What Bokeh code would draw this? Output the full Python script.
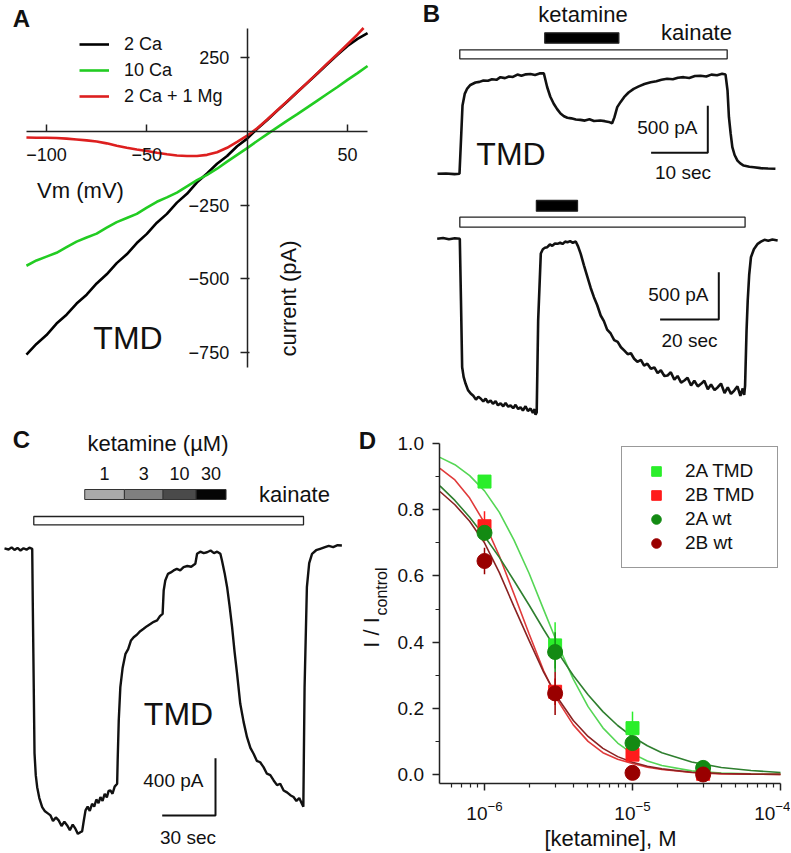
import math
from bokeh.plotting import figure
from bokeh.models import Label, Legend, LegendItem, FixedTicker, NumeralTickFormatter, Range1d
from bokeh.layouts import row, column
from bokeh.embed import file_html
from bokeh.resources import INLINE

FONT = "Liberation Sans"

# ---------------- DATA ----------------
# Panel A : I-V curves
a_vm = [-110, -105, -100, -95, -90, -85, -80, -75, -70, -65, -60, -55, -50, -45, -40, -35, -30, -25,
        -20, -15, -10, -5, 0, 5, 10, 15, 20, 25, 30, 35, 40, 45, 50, 55, 60]
a_2ca = [-757, -721, -691, -652, -622, -584, -554, -516, -485, -447, -417, -379, -348, -310, -280, -242,
         -212, -173, -143, -110, -84, -51, -25, 8, 38, 70, 101, 133, 164, 196, 228, 259, 289, 313, 333]
a_10ca = [-456, -438, -425, -412, -393, -374, -360, -347, -327, -308, -294, -280, -259, -239, -224, -208,
          -187, -166, -148, -127, -103, -80, -57, -33, -10, 13, 36, 58, 81, 104, 127, 150, 174, 197, 221]
a_vm_mg = [-110, -105, -100, -95, -90, -85, -80, -75, -70, -65, -60, -55, -50, -45, -40, -35, -30, -25,
           -20, -15, -10, -5, 0, 5, 10, 15, 20, 25, 30, 35, 40, 45, 50, 55, 58]
a_mg = [-21, -22, -22, -23, -25, -28, -31, -35, -41, -49, -56, -62, -67, -73, -78, -82, -84, -84,
        -80, -71, -56, -36, -15, 10, 40, 71, 102, 133, 165, 197, 230, 262, 295, 328, 350]
a_labels = ["2 Ca", "10 Ca", "2 Ca + 1 Mg"]
a_xticks = [-100, -50, 50]
a_yticks = [-750, -500, -250, 250]

# Panel B top trace (time s, current pA)
b1_trace = [(0, 0), (1.5, 4), (3.0, -3), (3.88, 0), (4.14, 354), (4.41, 727), (4.8, 850), (5.24, 907),
            (5.8, 945), (6.7, 971), (7.4, 978), (8.1, 993), (8.9, 990), (9.6, 1005), (10.4, 1000),
            (11.1, 1028), (11.9, 1018), (12.6, 1035), (13.3, 1030), (14.1, 1056), (14.8, 1042),
            (15.6, 1058), (16.4, 1062), (17.2, 1052), (18.0, 1068), (18.75, 1070), (19.35, 921),
            (19.9, 820), (20.5, 745), (21.1, 688), (21.7, 641), (22.3, 612), (22.9, 596), (23.6, 590),
            (24.4, 578), (25.2, 574), (26.0, 566), (26.8, 580), (27.6, 562), (28.7, 567), (29.5, 560),
            (30.2, 552), (30.8, 538), (31.2, 600), (31.7, 709), (32.3, 765), (32.9, 815), (33.7, 865),
            (34.6, 904), (35.5, 930), (36.5, 955), (37.6, 974), (38.6, 985), (39.5, 1000), (40.5, 1011),
            (41.5, 1005), (42.4, 1022), (43.4, 1028), (44.4, 1020), (45.4, 1040), (46.4, 1043),
            (47.4, 1035), (48.3, 1055), (49.3, 1048), (50.2, 1064), (50.8, 1056), (51.15, 886),
            (51.4, 602), (51.7, 430), (52.0, 283), (52.4, 200), (52.9, 141), (53.4, 110), (54.0, 88),
            (55.0, 75), (55.8, 70), (57.0, 60), (58.3, 56), (59.6, 53)]
b1_kainate = (3.93, 51.09)
b1_ketamine = (18.92, 31.98)

# Panel B bottom trace
b2_trace = [(0, 0), (2, 8), (4, -5), (6, 5), (7.7, 0), (8.1, -652), (8.5, -1357), (9.0, -1460),
            (9.66, -1530), (10.5, -1600), (11.4, -1635), (12.3, -1660), (13.2, -1700), (14.0, -1670),
            (14.8, -1688), (15.7, -1720), (16.5, -1690), (17.3, -1730), (18.2, -1709), (19.0, -1745),
            (19.9, -1715), (20.7, -1760), (21.6, -1740), (22.5, -1770), (23.3, -1735), (24.2, -1775),
            (25.0, -1762), (25.9, -1790), (26.7, -1755), (27.6, -1800), (28.4, -1780), (29.2, -1815),
            (30.1, -1770), (30.9, -1820), (31.8, -1794), (32.6, -1840), (33.2, -1800), (33.5, -1860),
            (33.9, -1836), (34.4, -864), (35.3, -155), (36.0, -110), (36.7, -95), (37.5, -89),
            (38.4, -60), (39.2, -75), (40.1, -50), (41.0, -53), (41.9, -40), (42.7, -55), (43.6, -30),
            (44.4, -36), (45.3, -25), (46.2, -42), (47.2, -29), (48.0, -80), (48.9, -159), (50.0, -280),
            (51.2, -406), (52.3, -520), (53.4, -617), (54.5, -700), (55.7, -811), (56.8, -870),
            (57.9, -960), (59.1, -1001), (60.3, -1070), (61.5, -1090), (62.6, -1146), (63.7, -1180),
            (64.9, -1220), (66.0, -1210), (67.1, -1268), (68.2, -1300), (69.4, -1280), (70.5, -1340),
            (71.6, -1320), (72.8, -1374), (74.0, -1360), (75.1, -1420), (76.2, -1390), (77.4, -1450),
            (78.5, -1445), (79.6, -1410), (80.8, -1490), (81.9, -1450), (83.1, -1520), (84.2, -1498),
            (85.3, -1470), (86.5, -1550), (87.6, -1500), (88.8, -1560), (89.9, -1533), (91.0, -1500),
            (92.2, -1590), (93.3, -1540), (94.5, -1600), (95.6, -1569), (96.7, -1530), (97.9, -1630),
            (99.0, -1570), (100.1, -1640), (101.2, -1604), (102.3, -1560), (103.3, -1660),
            (104.1, -1582), (104.6, -1650), (104.9, -1551), (105.4, -969), (105.8, -652), (106.3, -380),
            (106.9, -195), (107.9, -110), (109.2, -53), (110.3, -30), (111.5, -11), (112.8, -20),
            (114.2, -8), (116.0, -18)]
b2_kainate = (7.71, 104.9)
b2_ketamine = (33.8, 47.8)

# Panel C trace
c_trace = [(0.0, 3), (2.3, -5), (4.0, 10), (5.6, -8), (7.3, 6), (9.0, -12), (10.7, 4), (12.4, -6),
           (14.0, 8), (15.6, 0), (15.9, -361), (16.9, -1428), (17.6, -1580), (18.4, -1664), (19.6, -1740),
           (21.2, -1803), (22.6, -1830), (24.2, -1845), (25.9, -1861), (27.3, -1900), (28.9, -1875),
           (30.5, -1896), (32.1, -1935), (33.7, -1905), (35.3, -1931), (36.8, -1965), (38.4, -1925),
           (39.9, -1954), (41.3, -1990), (42.7, -1978), (43.7, -1973), (44.6, -1900), (45.6, -1826),
           (46.8, -1800), (48.0, -1830), (49.3, -1780), (50.5, -1800), (51.7, -1750), (52.9, -1775),
           (54.0, -1733), (55.2, -1760), (56.4, -1710), (57.6, -1735), (58.6, -1690), (59.6, -1687),
           (60.8, -1710), (62.0, -1660), (63.4, -1640), (63.7, -1477), (64.3, -1200), (65.2, -966),
           (66.5, -830), (68.1, -733), (69.6, -700), (71.2, -640), (72.7, -617), (74.5, -600),
           (76.4, -575), (78.3, -558), (80.2, -540), (82.1, -525), (84.0, -510), (85.9, -500),
           (87.5, -470), (89.0, -454), (89.6, -291), (90.5, -221), (92.0, -175), (93.6, -165),
           (95.2, -151), (97.0, -140), (98.9, -150), (100.8, -128), (102.9, -120), (105.1, -125),
           (107.4, -105), (108.4, -35), (110.2, -20), (112.1, -30), (114.0, -24), (116.0, -12),
           (117.9, -30), (119.7, -20), (121.5, -35), (122.4, -82), (123.9, -170), (125.3, -268),
           (126.7, -400), (128.1, -547), (129.5, -720), (130.9, -872), (132.7, -1082), (134.6, -1210),
           (136.5, -1315), (138.4, -1390), (140.2, -1431), (142.0, -1480), (143.9, -1490),
           (145.8, -1524), (147.7, -1570), (149.6, -1580), (151.5, -1617), (153.4, -1650),
           (155.2, -1640), (157.1, -1687), (159.0, -1700), (160.9, -1720), (162.7, -1733),
           (164.3, -1760), (165.9, -1740), (167.4, -1780), (168.2, -1800), (168.9, -966),
           (170.2, -268), (171.5, -100), (173.1, -35), (175.4, -10), (177.7, 0), (180.0, 10),
           (182.5, 20), (185.0, 12), (187.5, 25), (189.9, 23)]
c_kainate = (16.48, 168.3)
c_ket_edges = [45.16, 67.49, 89.26, 107.82, 124.69]
c_ket_labels = ["1", "3", "10", "30"]
c_ket_colors = ["#aaaaaa", "#7f7f7f", "#4a4a4a", "#050505"]

# Panel D : concentration-response
d_conc = [1e-6, 3e-6, 1e-5, 3e-5]
d_tmd2a = [0.885, 0.39, 0.14, 0.012]
d_tmd2a_err = [0.0, 0.07, 0.05, 0.0]
d_tmd2b = [0.75, 0.25, 0.06, 0.002]
d_tmd2b_err = [0.045, 0.04, 0.015, 0.0]
d_wt2a = [0.73, 0.37, 0.095, 0.02]
d_wt2a_err = [0.02, 0.06, 0.02, 0.005]
d_wt2b = [0.645, 0.245, 0.005, 0.0]
d_wt2b_err = [0.04, 0.065, 0.005, 0.0]
d_fit_conc = [5e-7, 6.31e-7, 7.94e-7, 1e-6, 1.26e-6, 1.58e-6, 2e-6, 2.51e-6, 3.16e-6, 3.98e-6,
              5.01e-6, 6.31e-6, 7.94e-6, 1e-5, 1.26e-5, 1.58e-5, 2.51e-5, 3.98e-5, 6.31e-5, 1e-4]
d_fit_tmd2a = [0.958, 0.936, 0.903, 0.857, 0.792, 0.709, 0.608, 0.498, 0.388, 0.288, 0.205, 0.141,
               0.095, 0.063, 0.041, 0.027, 0.011, 0.0045, 0.002, 0.001]
d_fit_wt2a = [0.872, 0.828, 0.777, 0.720, 0.656, 0.586, 0.512, 0.438, 0.366, 0.299, 0.241, 0.190,
              0.148, 0.114, 0.087, 0.066, 0.038, 0.021, 0.012, 0.006]
d_fit_tmd2b = [0.925, 0.890, 0.835, 0.760, 0.660, 0.546, 0.425, 0.313, 0.220, 0.150, 0.100, 0.066,
               0.046, 0.033, 0.022, 0.015, 0.006, 0.002, 0.001, 0.0005]
d_fit_wt2b = [0.855, 0.815, 0.765, 0.700, 0.610, 0.508, 0.405, 0.309, 0.228, 0.163, 0.115, 0.079,
              0.054, 0.037, 0.025, 0.017, 0.007, 0.003, 0.001, 0.0005]
d_labels = ["2A TMD", "2B TMD", "2A wt", "2B wt"]
d_yticks = [0.0, 0.2, 0.4, 0.6, 0.8, 1.0]
d_yminor = [0.1, 0.3, 0.5, 0.7, 0.9]
d_xticks = [1e-6, 1e-5, 1e-4]
d_xminor = [6e-7, 7e-7, 8e-7, 9e-7, 2e-6, 3e-6, 4e-6, 5e-6, 6e-6, 7e-6, 8e-6, 9e-6,
            2e-5, 3e-5, 4e-5, 5e-5, 6e-5, 7e-5, 8e-5, 9e-5]
d_xlim = (5e-7, 1e-4)
d_ylim = (-0.027, 1.0)

# ---------------- HELPERS ----------------
class Panel:
    """Figure box (page px) plus pixel<->data calibration."""

    def __init__(self, box, calx, caly, logx=False):
        self.box = box
        self.logx = logx
        (px0, vx0), (px1, vx1) = calx
        if logx:
            vx0, vx1 = math.log10(vx0), math.log10(vx1)
        self.ax = (vx1 - vx0) / (px1 - px0)
        self.px0, self.vx0 = px0, vx0
        (py0, vy0), (py1, vy1) = caly
        self.ay = (vy1 - vy0) / (py1 - py0)
        self.py0, self.vy0 = py0, vy0

    def __call__(self, px, py):
        x = self.vx0 + (px - self.px0) * self.ax
        if self.logx:
            x = 10 ** x
        y = self.vy0 + (py - self.py0) * self.ay
        return x, y

    def make(self, **kw):
        bx, by, bw, bh = self.box
        xr = (self(bx, 0)[0], self(bx + bw, 0)[0])
        yr = (self(0, by + bh)[1], self(0, by)[1])
        p = figure(width=bw, height=bh, x_range=Range1d(*xr), y_range=Range1d(*yr),
                   output_backend="svg", toolbar_location=None, frame_align=False,
                   min_border_left=0, min_border_right=0, min_border_top=0, min_border_bottom=0,
                   **kw)
        p.grid.visible = False
        p.outline_line_color = None
        p.background_fill_color = "white"
        p.border_fill_color = "white"
        return p


def txt(p, m, px, py, text, size, align="center", bold=False, angle=0.0):
    x, y = m(px, py)
    p.add_layout(Label(x=x, y=y, text=text, text_font=FONT, text_font_size=f"{size}px",
                       text_align=align, text_baseline="middle",
                       text_font_style="bold" if bold else "normal", angle=angle,
                       text_color="#111111"))


def stim_bar(p, m, span, py0, py1, fill):
    yt = m(0, py0)[1]
    yb = m(0, py1)[1]
    p.quad(left=[span[0]], right=[span[1]], top=[yt], bottom=[yb], fill_color=fill,
           line_color="#222222", line_width=1.3)


def scale_bar(p, m, px, py, dt, di):
    x0, y0 = m(px, py)
    p.line([x0 - dt, x0, x0], [y0, y0, y0 + di], line_color="#111111", line_width=2)


def style_axis(ax, size):
    ax.axis_line_width = 1.5
    ax.axis_line_color = "#222222"
    ax.major_tick_line_width = 1.5
    ax.major_tick_line_color = "#222222"
    ax.minor_tick_line_width = 1.2
    ax.minor_tick_line_color = "#222222"
    ax.major_label_text_font = FONT
    ax.major_label_text_font_size = size
    ax.major_label_text_color = "#111111"


# ---------------- PANEL A ----------------
mA = Panel((0, 0, 400, 420), ((46, -100), (347, 50)), ((57, 250), (352, -750)))
pA = mA.make()
pA.xaxis.fixed_location = 0
pA.yaxis.fixed_location = 0
pA.xaxis.ticker = FixedTicker(ticks=a_xticks)
pA.yaxis.ticker = FixedTicker(ticks=a_yticks)
pA.xaxis.bounds = (-110, 60)
pA.yaxis.bounds = (-800, 348)
style_axis(pA.xaxis[0], "18px")
style_axis(pA.yaxis[0], "18px")
pA.axis.minor_tick_line_color = None
pA.xaxis.major_tick_in = 7
pA.xaxis.major_tick_out = 0
pA.xaxis.major_label_standoff = 17
pA.yaxis.major_tick_in = 2
pA.yaxis.major_tick_out = 7
pA.yaxis.major_label_standoff = 11

rA1 = pA.line(a_vm, a_2ca, line_color="black", line_width=2.6)
rA2 = pA.line(a_vm, a_10ca, line_color="#22cc22", line_width=2.6)
rA3 = pA.line(a_vm_mg, a_mg, line_color="#dd1f1f", line_width=2.6)
legA = Legend(items=[LegendItem(label=a_labels[0], renderers=[rA1]),
                     LegendItem(label=a_labels[1], renderers=[rA2]),
                     LegendItem(label=a_labels[2], renderers=[rA3])],
              location=(79, 311), padding=0, spacing=0, margin=0,
              glyph_width=30, glyph_height=26, label_height=26, label_standoff=15,
              label_text_font=FONT, label_text_font_size="18px", label_text_color="#111111",
              background_fill_alpha=0, border_line_color=None)
pA.add_layout(legA)
txt(pA, mA, 21, 18, "A", 24, bold=True)
txt(pA, mA, 80, 190, "Vm (mV)", 22)
txt(pA, mA, 288, 298, "current (pA)", 22, angle=math.pi / 2)
txt(pA, mA, 127.5, 337, "TMD", 32)

# ---------------- PANEL B ----------------
mB1 = Panel((400, 0, 390, 190), ((437, 0), (493.7, 10)), ((173.3, 0), (126.3, 500)))
pB1 = mB1.make(x_axis_location=None, y_axis_location=None)
pB1.line([p[0] for p in b1_trace], [p[1] for p in b1_trace], line_color="#111111", line_width=2.6)
stim_bar(pB1, mB1, b1_ketamine, 32.3, 42.7, "black")
stim_bar(pB1, mB1, b1_kainate, 49.3, 58.3, "white")
scale_bar(pB1, mB1, 707.3, 152.3, 10, 500)
txt(pB1, mB1, 431, 12.5, "B", 24, bold=True)
txt(pB1, mB1, 582.5, 14, "ketamine", 22)
txt(pB1, mB1, 696, 31.5, "kainate", 22)
txt(pB1, mB1, 510.5, 153, "TMD", 32)
txt(pB1, mB1, 697, 127, "500 pA", 19, align="right")
txt(pB1, mB1, 682.5, 172, "10 sec", 19)

mB2 = Panel((400, 190, 390, 230), ((436.7, 0), (495.4, 20)), ((238.3, 0), (191.0, 500)))
pB2 = mB2.make(x_axis_location=None, y_axis_location=None)
pB2.line([p[0] for p in b2_trace], [p[1] for p in b2_trace], line_color="#111111", line_width=2.6)
stim_bar(pB2, mB2, b2_ketamine, 200, 210.7, "black")
stim_bar(pB2, mB2, b2_kainate, 216.7, 226.7, "white")
scale_bar(pB2, mB2, 718.3, 319, 20, 500)
txt(pB2, mB2, 708, 294, "500 pA", 19, align="right")
txt(pB2, mB2, 689, 340, "20 sec", 19)

# ---------------- PANEL C ----------------
mC = Panel((0, 420, 348, 432), ((4, 0), (57.3, 30)), ((548.3, 0), (491.0, 400)))
pC = mC.make(x_axis_location=None, y_axis_location=None)
pC.line([p[0] for p in c_trace], [p[1] for p in c_trace], line_color="#111111", line_width=2.4)
yt = mC(0, 489)[1]
yb = mC(0, 499)[1]
pC.quad(left=c_ket_edges[:-1], right=c_ket_edges[1:], top=[yt] * 4, bottom=[yb] * 4,
        fill_color=c_ket_colors, line_color="#333333", line_width=1)
stim_bar(pC, mC, c_kainate, 516, 524.3, "white")
scale_bar(pC, mC, 215, 815, 30, 400)
for i, lab in enumerate(c_ket_labels):
    cx = (c_ket_edges[i] + c_ket_edges[i + 1]) / 2
    pC.add_layout(Label(x=cx, y=mC(0, 472.5)[1], text=lab, text_font=FONT, text_font_size="18px",
                        text_align="center", text_baseline="middle", text_color="#111111"))
txt(pC, mC, 21, 439, "C", 24, bold=True)
txt(pC, mC, 157.5, 443, "ketamine (µM)", 22)
txt(pC, mC, 294, 494, "kainate", 22)
txt(pC, mC, 178, 713, "TMD", 32)
txt(pC, mC, 203, 780, "400 pA", 19, align="right")
txt(pC, mC, 187.5, 837, "30 sec", 19)

# ---------------- PANEL D ----------------
mD = Panel((348, 420, 442, 432), ((484, 1e-6), (780, 1e-4)), ((443, 1.0), (774, 0.0)), logx=True)
pD = mD.make(x_axis_type="log")
pD.xaxis.fixed_location = d_ylim[0]
pD.yaxis.fixed_location = d_xlim[0]
pD.xaxis.bounds = d_xlim
pD.yaxis.bounds = d_ylim
pD.xaxis.ticker = FixedTicker(ticks=d_xticks, minor_ticks=d_xminor)
pD.yaxis.ticker = FixedTicker(ticks=d_yticks, minor_ticks=d_yminor)
pD.yaxis.formatter = NumeralTickFormatter(format="0.0")
for ax in (pD.xaxis[0], pD.yaxis[0]):
    style_axis(ax, "19px")
    ax.major_tick_in = 0
    ax.major_tick_out = 7
    ax.minor_tick_in = 0
    ax.minor_tick_out = 4
pD.yaxis.major_label_standoff = 9
pD.xaxis.major_label_standoff = 11

series = [
    (d_fit_tmd2a, d_tmd2a, d_tmd2a_err, "#55d655", "#2aee2a", "square", 13),
    (d_fit_tmd2b, d_tmd2b, d_tmd2b_err, "#e03a3a", "#ff1c1c", "square", 13),
    (d_fit_wt2a, d_wt2a, d_wt2a_err, "#2f7f2f", "#138a13", "circle", 15),
    (d_fit_wt2b, d_wt2b, d_wt2b_err, "#8a2222", "#990000", "circle", 15),
]
for fit, _ys, _err, lc, _mc, _mk, _sz in series:
    pD.line(d_fit_conc, fit, line_color=lc, line_width=1.6)
items = []
for k, (fit, ys, err, lc, mc, mk, sz) in enumerate(series):
    lo = [y - e for y, e in zip(ys, err)]
    hi = [y + e for y, e in zip(ys, err)]
    pD.segment(x0=d_conc, y0=lo, x1=d_conc, y1=hi, line_color=mc, line_width=1.5)
    r = pD.scatter(d_conc, ys, marker=mk, size=sz, fill_color=mc, line_color=mc)
    items.append(LegendItem(label=d_labels[k], renderers=[r]))
legD = Legend(items=items, location=(273, 284), padding=12, spacing=0, margin=0,
              glyph_width=44, glyph_height=24, label_height=24, label_width=80, label_standoff=7,
              label_text_font=FONT, label_text_font_size="19px", label_text_color="#111111",
              background_fill_color="white", background_fill_alpha=1,
              border_line_color="#333333", border_line_width=1.5)
pD.add_layout(legD)
txt(pD, mD, 367, 440, "D", 24, bold=True)
txt(pD, mD, 610, 838, "[ketamine], M", 22)
txt(pD, mD, 371, 632, "I / I", 22, angle=math.pi / 2)
txt(pD, mD, 381, 591, "control", 16, angle=math.pi / 2)

layout = column(row(pA, column(pB1, pB2)), row(pC, pD))
open("out.html", "w").write(file_html(layout, INLINE))
